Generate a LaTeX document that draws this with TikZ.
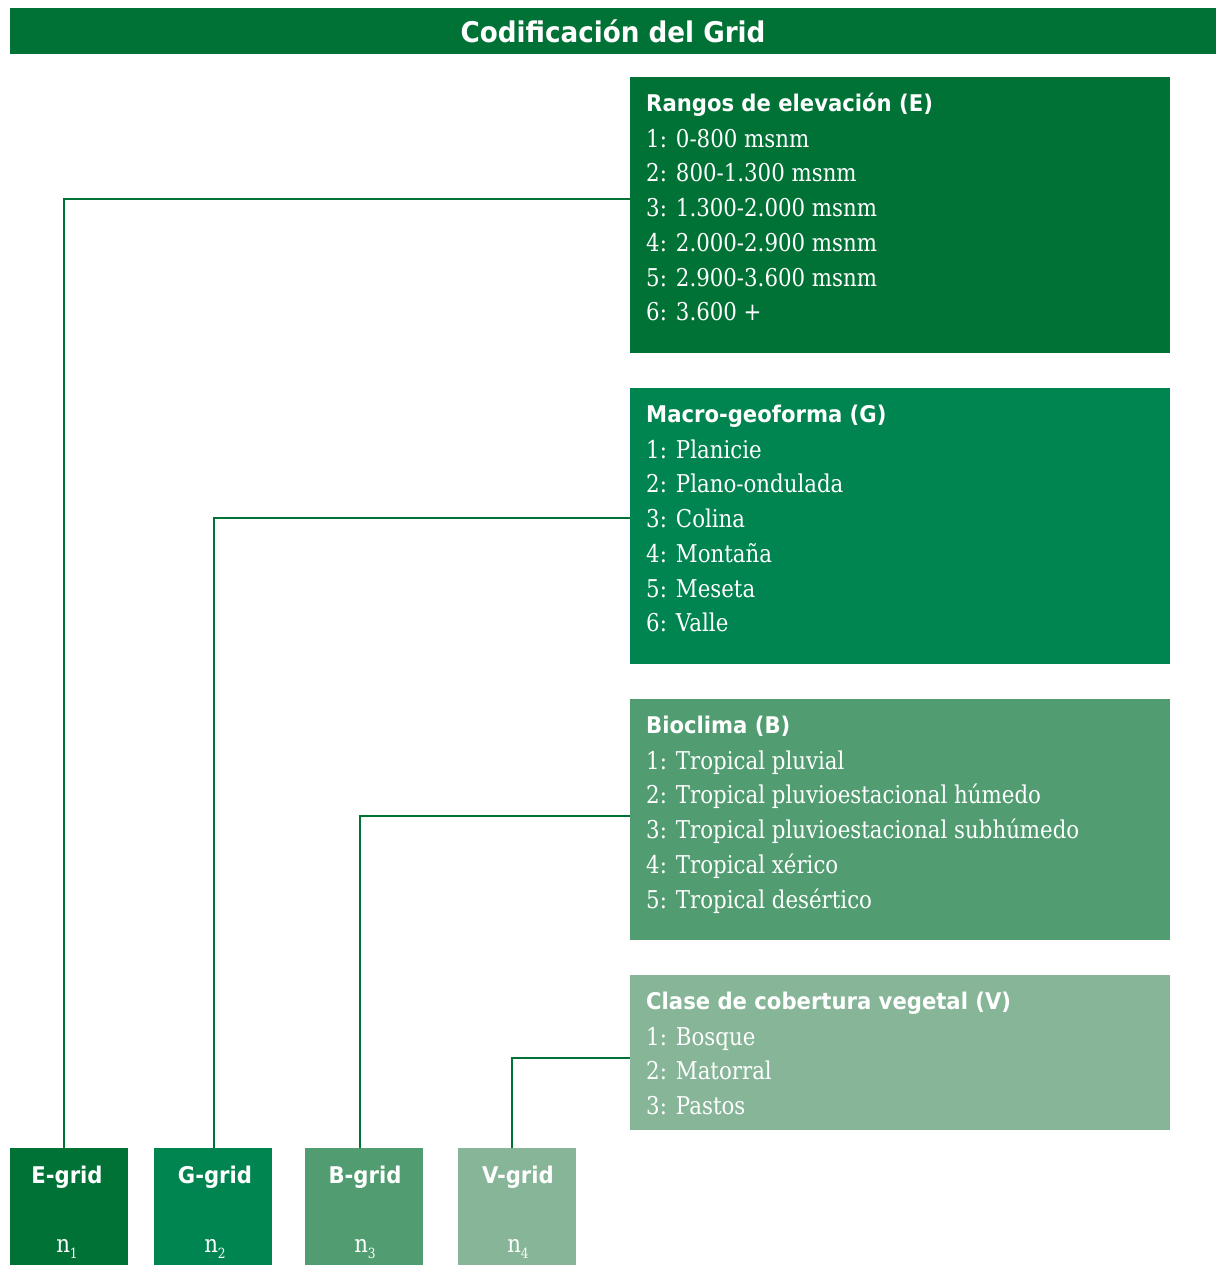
\documentclass[tikz,border=0pt]{standalone}
\usepackage{fontspec}
\setmainfont{DejaVu Serif}
\newfontfamily\headfont[FakeStretch=0.92]{DejaVu Sans}
\newfontfamily\bodyfont[FakeStretch=0.87]{DejaVu Serif}
\definecolor{cE}{RGB}{0,114,54}
\definecolor{cG}{RGB}{0,132,80}
\definecolor{cB}{RGB}{81,157,113}
\definecolor{cV}{RGB}{134,181,151}
\begin{document}
\begin{tikzpicture}[x=1pt,y=-1pt,
  panel/.style={draw=none,inner sep=0pt,minimum width=540pt},
  gridbox/.style={draw=none,inner sep=0pt,minimum width=118pt,minimum height=117pt},
  head/.style={anchor=base west,inner sep=0pt,text=white,font=\headfont\bfseries\fontsize{23}{26}\selectfont},
  item/.style={anchor=base west,inner sep=0pt,text=white,font=\bodyfont\fontsize{24.5}{28}\selectfont},
  glabel/.style={anchor=base,inner sep=0pt,text=white,font=\headfont\bfseries\fontsize{23}{26}\selectfont},
  nlabel/.style={anchor=base,inner sep=0pt,text=white,font=\bodyfont\fontsize{24.5}{28}\selectfont},
  conn/.style={draw=cE,line width=1.1pt}]
\useasboundingbox (0,0) rectangle (1216,1265);
\fill[white] (0,0) rectangle (1216,1265);
% title
\node[fill=cE,inner sep=0pt,minimum width=1206pt,minimum height=46pt,text=white,
  font=\headfont\bfseries\fontsize{28.5}{32}\selectfont] (title) at (613,31) {Codificación del Grid};
% panels
\node[panel,fill=cE,minimum height=276pt] (E) at (900,215) {};
\node[panel,fill=cG,minimum height=276pt] (G) at (900,526) {};
\node[panel,fill=cB,minimum height=241pt] (B) at (900,819.5) {};
\node[panel,fill=cV,minimum height=155pt] (V) at (900,1052.5) {};
% panel texts
\node[head] (Eh) at (646,111.5) {Rangos de elevación (E)};
\foreach \t [count=\k] in {1: 0-800 msnm,2: 800-1.300 msnm,3: 1.300-2.000 msnm,4: 2.000-2.900 msnm,5: 2.900-3.600 msnm,6: 3.600 +}
  \node[item] (E\k) at (646,112.5+34.7*\k) {\t};
\node[head] (Gh) at (646,422.5) {Macro-geoforma (G)};
\foreach \t [count=\k] in {1: Planicie,2: Plano-ondulada,3: Colina,4: Montaña,5: Meseta,6: Valle}
  \node[item] (G\k) at (646,423.5+34.7*\k) {\t};
\node[head] (Bh) at (646,733.5) {Bioclima (B)};
\foreach \t [count=\k] in {1: Tropical pluvial,2: Tropical pluvioestacional húmedo,3: Tropical pluvioestacional subhúmedo,4: Tropical xérico,5: Tropical desértico}
  \node[item] (B\k) at (646,734.5+34.7*\k) {\t};
\node[head] (Vh) at (646,1009.5) {Clase de cobertura vegetal (V)};
\foreach \t [count=\k] in {1: Bosque,2: Matorral,3: Pastos}
  \node[item] (V\k) at (646,1010.5+34.7*\k) {\t};
% grid boxes
\node[gridbox,fill=cE] (Eg) at (69,1206.5) {};
\node[gridbox,fill=cG] (Gg) at (213,1206.5) {};
\node[gridbox,fill=cB] (Bg) at (364,1206.5) {};
\node[gridbox,fill=cV] (Vg) at (517,1206.5) {};
\node[glabel] (Egl) at (67,1183) {E-grid};
\node[glabel] (Ggl) at (215,1183) {G-grid};
\node[glabel] (Bgl) at (365,1183) {B-grid};
\node[glabel] (Vgl) at (518,1183) {V-grid};
\node[nlabel] (En) at (67,1252) {n\raisebox{-6pt}{\fontsize{14}{16}\selectfont 1}};
\node[nlabel] (Gn) at (215,1252) {n\raisebox{-6pt}{\fontsize{14}{16}\selectfont 2}};
\node[nlabel] (Bn) at (365,1252) {n\raisebox{-6pt}{\fontsize{14}{16}\selectfont 3}};
\node[nlabel] (Vn) at (518,1252) {n\raisebox{-6pt}{\fontsize{14}{16}\selectfont 4}};
% connectors
\draw[conn] (E.west |- 0,199) -| ([xshift=-5pt]Eg.north);
\draw[conn] (G.west |- 0,518) -| ([xshift=1pt]Gg.north);
\draw[conn] (B.west |- 0,816) -| ([xshift=-4pt]Bg.north);
\draw[conn] (V.west |- 0,1058) -| ([xshift=-5pt]Vg.north);
\end{tikzpicture}
\end{document}
